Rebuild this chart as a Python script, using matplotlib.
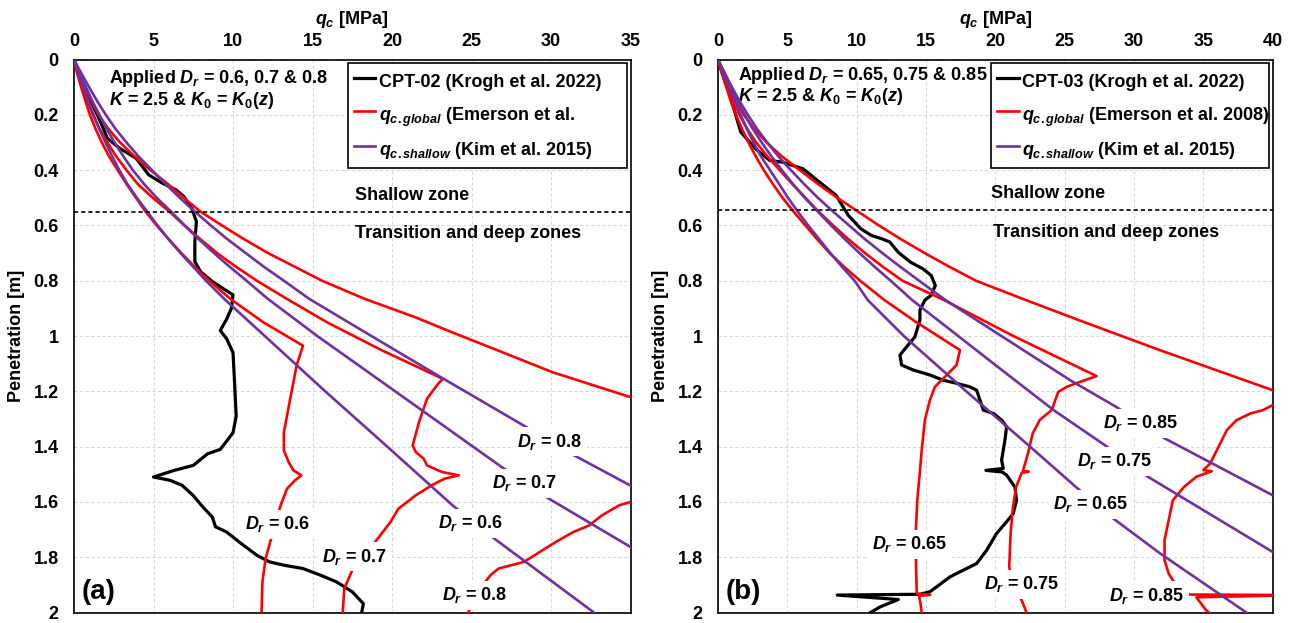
import matplotlib
matplotlib.use('Agg')
import matplotlib.pyplot as plt
from matplotlib.ticker import MultipleLocator, FuncFormatter

plt.rcParams['font.family'] = ['Liberation Sans', 'DejaVu Sans']
plt.rcParams['font.weight'] = 'bold'
plt.rcParams['font.size'] = 13
plt.rcParams['mathtext.fontset'] = 'custom'
plt.rcParams['mathtext.rm'] = 'Liberation Sans:bold'
plt.rcParams['mathtext.it'] = 'Liberation Sans:italic:bold'
plt.rcParams['mathtext.bf'] = 'Liberation Sans:bold'

RED = '#FF0000'
PURPLE = '#7030A0'
FS = 13

# ---------------- panel (a) : CPT-02 ----------------
a_cpt_q = [0.1, 0.9, 1.7, 2.1, 2.84, 3.9, 4.7, 5.55, 6.4, 6.9, 7.4, 7.7, 7.6, 7.6, 7.95, 8.7, 9.5, 10.0,
           9.9, 9.6, 9.2, 9.6, 10.0, 10.1, 10.2, 10.0, 9.6, 9.2, 8.4, 7.5, 6.3, 5.0, 6.05, 6.8, 7.5, 8.1,
           8.7, 8.9, 9.6, 10.5, 11.5, 12.3, 13.2, 14.4, 15.5, 16.5, 17.5, 18.2, 18.1]
a_cpt_z = [0.02, 0.13, 0.23, 0.285, 0.32, 0.357, 0.417, 0.447, 0.471, 0.495, 0.538, 0.586, 0.658, 0.73,
           0.767, 0.803, 0.833, 0.851, 0.9, 0.939, 0.98, 1.01, 1.06, 1.17, 1.29, 1.35, 1.38, 1.41, 1.426,
           1.468, 1.486, 1.51, 1.522, 1.54, 1.577, 1.618, 1.655, 1.69, 1.709, 1.75, 1.793, 1.817, 1.829,
           1.841, 1.865, 1.889, 1.925, 1.968, 1.998]

# q_c.global (Emerson et al.) for Dr = 0.6, 0.7, 0.8
a_glob06_q = [0, 0.2, 0.45, 0.72, 1.0, 1.35, 1.75, 2.2, 2.75, 3.3, 3.9, 4.5, 5.2, 5.95, 6.75, 7.6, 8.5,
              9.84, 11.9, 14.4, 14.0, 13.6, 13.2, 13.2, 13.5, 13.8, 14.3, 13.9, 13.4, 13.0, 12.4, 12.05,
              11.85, 11.8]
a_glob06_z = [0, 0.05, 0.1, 0.15, 0.2, 0.25, 0.3, 0.35, 0.4, 0.45, 0.5, 0.55, 0.6, 0.65, 0.7, 0.75, 0.8,
              0.866, 0.95, 1.035, 1.107, 1.227, 1.348, 1.414, 1.456, 1.486, 1.504, 1.522, 1.552, 1.612,
              1.733, 1.805, 1.89, 2.0]
a_glob07_q = [0, 0.25, 0.55, 0.85, 1.2, 1.6, 2.1, 2.65, 3.3, 4.0, 4.95, 6.0, 6.95, 7.95, 9.0, 10.2, 11.5,
              13.4, 15.9, 19.3, 23.2, 22.9, 22.2, 21.7, 21.3, 21.5, 22.0, 22.2, 23.15, 24.2, 23.3, 22.5,
              21.5, 20.4, 19.9, 19.1, 17.5, 17.0, 16.9]
a_glob07_z = [0, 0.05, 0.1, 0.15, 0.2, 0.25, 0.3, 0.35, 0.4, 0.45, 0.5, 0.55, 0.6, 0.65, 0.7, 0.75, 0.8,
              0.866, 0.95, 1.05, 1.155, 1.173, 1.227, 1.311, 1.396, 1.42, 1.444, 1.468, 1.492, 1.504, 1.516,
              1.54, 1.576, 1.625, 1.673, 1.733, 1.847, 1.913, 2.0]
a_glob08_q = [0, 0.32, 0.7, 1.1, 1.55, 2.15, 2.9, 3.8, 4.8, 5.9, 6.9, 7.95, 9.3, 10.7, 12.2, 13.9, 15.6,
              18.3, 21.5, 23.8, 27.0, 30.1, 35, 44, 35, 34.3, 33.2, 32.4, 31.4, 30.3, 29.3, 28.3, 27.5,
              26.7, 26.2, 25.3, 24.8]
a_glob08_z = [0, 0.05, 0.1, 0.15, 0.2, 0.25, 0.3, 0.35, 0.4, 0.45, 0.5, 0.55, 0.6, 0.65, 0.7, 0.75, 0.8,
              0.866, 0.933, 0.987, 1.06, 1.131, 1.221, 1.41, 1.6, 1.612, 1.649, 1.685, 1.709, 1.745, 1.781,
              1.817, 1.829, 1.841, 1.865, 1.93, 2.0]

# q_c.shallow (Kim et al. 2015) for Dr = 0.6, 0.7, 0.8
a_shal06_q = [0, 0.28, 0.58, 0.9, 1.22, 1.58, 1.98, 2.4, 2.85, 3.35, 3.95, 4.6, 5.25, 5.95, 6.7, 7.5, 8.3,
              9.45, 12.0, 15.8, 19.7, 23.8, 26.3, 32.7]
a_shal06_z = [0, 0.05, 0.1, 0.15, 0.2, 0.25, 0.3, 0.35, 0.4, 0.45, 0.5, 0.55, 0.6, 0.65, 0.7, 0.75, 0.8,
              0.866, 1.0, 1.2, 1.4, 1.612, 1.727, 2.0]
a_shal07_q = [0, 0.36, 0.75, 1.15, 1.6, 2.05, 2.55, 3.1, 3.7, 4.4, 5.2, 6.1, 6.95, 7.85, 8.8, 9.8, 10.85,
              12.2, 15.3, 20.2, 26.9, 29.8, 35]
a_shal07_z = [0, 0.05, 0.1, 0.15, 0.2, 0.25, 0.3, 0.35, 0.4, 0.45, 0.5, 0.55, 0.6, 0.65, 0.7, 0.75, 0.8,
              0.866, 1.0, 1.2, 1.474, 1.586, 1.763]
a_shal08_q = [0, 0.46, 0.95, 1.45, 2.0, 2.6, 3.3, 4.05, 4.9, 5.75, 6.65, 7.6, 8.6, 9.65, 10.8, 11.95, 13.2,
              14.8, 18.7, 23.1, 27.9, 31.4, 35]
a_shal08_z = [0, 0.05, 0.1, 0.15, 0.2, 0.25, 0.3, 0.35, 0.4, 0.45, 0.5, 0.55, 0.6, 0.65, 0.7, 0.75, 0.8,
              0.866, 1.0, 1.15, 1.311, 1.43, 1.541]

# ---------------- panel (b) : CPT-03 ----------------
b_cpt_q = [0.1, 0.8, 1.64, 2.69, 3.73, 4.63, 6.12, 7.31, 8.51, 9.40, 10.3, 11.04, 11.79, 12.39, 12.99,
           13.88, 14.78, 15.37, 15.67, 15.37, 14.92, 14.56, 14.56, 14.2, 13.6, 13.12, 13.24, 14.08, 15.28,
           16.24, 17.2, 18.17, 18.65, 18.89, 19.13, 19.85, 20.45, 20.81, 20.69, 20.45, 20.57, 19.32, 20.5,
           20.81, 21.41, 21.53, 21.29, 20.81, 20.09, 19.37, 18.65, 17.68, 16.73, 15.77, 15.28, 14.56, 8.6,
           13.0, 11.68, 11.0]
b_cpt_z = [0.02, 0.12, 0.262, 0.322, 0.365, 0.371, 0.395, 0.443, 0.491, 0.564, 0.612, 0.636, 0.648, 0.660,
           0.697, 0.733, 0.757, 0.781, 0.817, 0.853, 0.870, 0.906, 0.942, 1.003, 1.039, 1.069, 1.105, 1.123,
           1.141, 1.16, 1.171, 1.184, 1.196, 1.232, 1.268, 1.28, 1.304, 1.328, 1.377, 1.449, 1.479, 1.486,
           1.492, 1.503, 1.546, 1.594, 1.642, 1.672, 1.714, 1.775, 1.823, 1.847, 1.871, 1.907, 1.925, 1.934,
           1.937, 1.953, 1.98, 2.0]

b_glob065_q = [0, 0.28, 0.6, 0.92, 1.3, 1.72, 2.2, 2.72, 3.3, 3.95, 4.65, 5.45, 6.3, 7.15, 8.05, 9.1, 10.25,
               12.0, 14.3, 17.45, 17.2, 16.5, 15.64, 15.28, 14.92, 14.69, 14.56, 14.37, 14.28, 14.28,
               14.33, 15.3, 14.5, 14.6, 14.69]
b_glob065_z = [0, 0.05, 0.1, 0.15, 0.2, 0.25, 0.3, 0.35, 0.4, 0.45, 0.5, 0.55, 0.6, 0.65, 0.7, 0.75, 0.8,
               0.87, 0.95, 1.051, 1.105, 1.141, 1.184, 1.232, 1.304, 1.413, 1.491, 1.594, 1.69, 1.823,
               1.932, 1.936, 1.94, 1.967, 2.0]
b_glob075_q = [0, 0.32, 0.7, 1.1, 1.55, 2.1, 2.75, 3.55, 4.45, 5.35, 6.3, 7.25, 8.3, 9.4, 10.6, 11.9, 13.3,
               16.3, 21.3, 27.3, 26.1, 25.14, 24.54, 24.06, 23.2, 22.7, 22.35, 21.99, 22.4, 21.9, 21.5,
               21.27, 21.1, 21.0, 21.3, 21.9, 22.25]
b_glob075_z = [0, 0.05, 0.1, 0.15, 0.2, 0.25, 0.3, 0.35, 0.4, 0.45, 0.5, 0.55, 0.6, 0.65, 0.7, 0.75, 0.8,
               0.87, 1.0, 1.145, 1.166, 1.184, 1.202, 1.268, 1.304, 1.352, 1.425, 1.488, 1.491, 1.495,
               1.546, 1.618, 1.714, 1.835, 1.9, 1.956, 2.0]
b_glob085_q = [0, 0.38, 0.8, 1.3, 1.85, 2.6, 3.5, 4.6, 5.9, 7.2, 8.6, 10.1, 11.6, 13.2, 14.9, 16.7, 18.6,
               22.2, 26.1, 31.8, 40, 44, 40, 39.3, 38.4, 37.4, 36.7, 36.1, 35.5, 35.0, 35.6, 34.5, 33.6,
               32.8, 32.5, 32.2, 32.2, 32.5, 32.8, 33.3, 34.0, 42, 34.5, 35.2, 35.4]
b_glob085_z = [0, 0.05, 0.1, 0.15, 0.2, 0.25, 0.3, 0.35, 0.4, 0.45, 0.5, 0.55, 0.6, 0.65, 0.7, 0.75, 0.8,
               0.87, 0.944, 1.05, 1.196, 1.225, 1.25, 1.268, 1.28, 1.304, 1.34, 1.40, 1.461, 1.485, 1.489,
               1.509, 1.546, 1.594, 1.666, 1.738, 1.811, 1.859, 1.883, 1.92, 1.935, 1.937, 1.945, 1.992, 2.0]

b_shal065_q = [0, 0.38, 0.8, 1.2, 1.62, 2.08, 2.55, 3.1, 3.75, 4.4, 5.05, 5.75, 6.5, 7.3, 8.1, 8.95, 9.85,
               10.8, 13.4, 17.9, 22.5, 25.9, 28.5, 31.9, 38.1]
b_shal065_z = [0, 0.05, 0.1, 0.15, 0.2, 0.25, 0.3, 0.35, 0.4, 0.45, 0.5, 0.55, 0.6, 0.65, 0.7, 0.75, 0.8,
               0.87, 1.0, 1.2, 1.4, 1.55, 1.66, 1.787, 2.0]
b_shal075_q = [0, 0.44, 0.9, 1.4, 1.92, 2.5, 3.15, 3.85, 4.6, 5.4, 6.25, 7.2, 8.15, 9.15, 10.2, 11.3, 12.45,
               14.0, 19.85, 24.2, 27.9, 31.0, 40]
b_shal075_z = [0, 0.05, 0.1, 0.15, 0.2, 0.25, 0.3, 0.35, 0.4, 0.45, 0.5, 0.55, 0.6, 0.65, 0.7, 0.75, 0.8,
               0.87, 1.099, 1.268, 1.395, 1.509, 1.781]
b_shal085_q = [0, 0.5, 1.0, 1.55, 2.15, 2.8, 3.55, 4.35, 5.25, 6.2, 7.2, 8.3, 9.45, 10.6, 11.85, 13.15,
               14.5, 16.4, 25.4, 28.7, 32.2, 40]
b_shal085_z = [0, 0.05, 0.1, 0.15, 0.2, 0.25, 0.3, 0.35, 0.4, 0.45, 0.5, 0.55, 0.6, 0.65, 0.7, 0.75, 0.8,
               0.87, 1.16, 1.256, 1.37, 1.576]

# label texts and where they sit (q, z)
a_dr_labels = [('$D_r$ = 0.8', 29.9, 1.383), ('$D_r$ = 0.7', 28.35, 1.533), ('$D_r$ = 0.6', 24.96, 1.678),
               ('$D_r$ = 0.6', 12.78, 1.681), ('$D_r$ = 0.7', 17.66, 1.799), ('$D_r$ = 0.8', 25.2, 1.937)]
b_dr_labels = [('$D_r$ = 0.85', 30.5, 1.316), ('$D_r$ = 0.75', 28.6, 1.453), ('$D_r$ = 0.65', 26.9, 1.608),
               ('$D_r$ = 0.65', 13.8, 1.754), ('$D_r$ = 0.75', 21.9, 1.898), ('$D_r$ = 0.85', 30.95, 1.94)]

fig = plt.figure(figsize=(12.94, 6.23), dpi=100)
ax1 = fig.add_axes([0.05719, 0.01685, 0.43006, 0.88764])
ax2 = fig.add_axes([0.55487, 0.01685, 0.42867, 0.88764])


def style_axis(ax, xmax):
    ax.set_xlim(0, xmax)
    ax.set_ylim(2, 0)
    ax.xaxis.tick_top()
    ax.xaxis.set_label_position('top')
    ax.xaxis.set_major_locator(MultipleLocator(5))
    ax.yaxis.set_major_locator(MultipleLocator(0.2))
    ax.yaxis.set_major_formatter(FuncFormatter(lambda v, p: '{:g}'.format(round(v, 2))))
    ax.tick_params(axis='x', length=0, pad=7, labelsize=FS)
    ax.tick_params(axis='y', length=0, pad=11, labelsize=FS)
    ax.grid(True, color='#D9D9D9', linestyle=(0, (3, 2)), linewidth=0.8)
    ax.set_axisbelow(True)
    for s in ax.spines.values():
        s.set_linewidth(1.2)
        s.set_color('black')
    ax.set_xlabel('$q_c$ [MPa]', fontsize=FS, fontweight='bold', labelpad=6)
    ax.set_ylabel('Penetration [m]', fontsize=FS, fontweight='bold', labelpad=6)


def white_label(ax, txt, x, y):
    ax.text(x, y, txt, ha='center', va='center', fontsize=FS, fontweight='bold', zorder=6,
            bbox=dict(boxstyle='square,pad=0.25', fc='white', ec='none'))


def add_legend(ax, x0, x1):
    leg = ax.legend(loc='upper left', bbox_to_anchor=(x0, 0.5, x1 - x0, 0.494), mode='expand',
                    borderaxespad=0, fontsize=FS, handlelength=1.2, handleheight=1.8,
                    handletextpad=0.2, labelspacing=0.45, borderpad=0.3,
                    frameon=True, fancybox=False, edgecolor='black', framealpha=1)
    leg.get_frame().set_linewidth(1.2)


# panel (a)
style_axis(ax1, 35)
ax1.plot(a_cpt_q, a_cpt_z, color='black', lw=2.3, zorder=2, label='CPT-02 (Krogh et al. 2022)')
ax1.plot(a_glob06_q, a_glob06_z, color=RED, lw=1.9, zorder=3, label='$q_{c.global}$ (Emerson et al.')
ax1.plot(a_glob07_q, a_glob07_z, color=RED, lw=1.9, zorder=3)
ax1.plot(a_glob08_q, a_glob08_z, color=RED, lw=1.9, zorder=3)
ax1.plot(a_shal06_q, a_shal06_z, color=PURPLE, lw=1.9, zorder=4, label='$q_{c.shallow}$ (Kim et al. 2015)')
ax1.plot(a_shal07_q, a_shal07_z, color=PURPLE, lw=1.9, zorder=4)
ax1.plot(a_shal08_q, a_shal08_z, color=PURPLE, lw=1.9, zorder=4)
ax1.axhline(0.551, color='black', lw=1.2, linestyle=(0, (2.5, 1.8)), zorder=5)
ax1.text(2.2, 0.07, 'Applied $D_r$ = 0.6, 0.7 & 0.8', fontsize=FS, va='center', ha='left')
ax1.text(2.2, 0.15, '$K$ = 2.5 & $K_0$ = $K_0$($z$)', fontsize=FS, va='center', ha='left')
ax1.text(17.7, 0.493, 'Shallow zone', fontsize=FS, va='center', ha='left')
ax1.text(17.65, 0.628, 'Transition and deep zones', fontsize=FS, va='center', ha='left')
ax1.text(0.45, 1.925, '(a)', fontsize=20, fontweight='bold', va='center', ha='left')
for t, x, y in a_dr_labels:
    white_label(ax1, t, x, y)
add_legend(ax1, 0.493, 0.994)

# panel (b)
style_axis(ax2, 40)
ax2.plot(b_cpt_q, b_cpt_z, color='black', lw=2.3, zorder=2, label='CPT-03 (Krogh et al. 2022)')
ax2.plot(b_glob065_q, b_glob065_z, color=RED, lw=1.9, zorder=3, label='$q_{c.global}$ (Emerson et al. 2008)')
ax2.plot(b_glob075_q, b_glob075_z, color=RED, lw=1.9, zorder=3)
ax2.plot(b_glob085_q, b_glob085_z, color=RED, lw=1.9, zorder=3)
ax2.plot(b_shal065_q, b_shal065_z, color=PURPLE, lw=1.9, zorder=4, label='$q_{c.shallow}$ (Kim et al. 2015)')
ax2.plot(b_shal075_q, b_shal075_z, color=PURPLE, lw=1.9, zorder=4)
ax2.plot(b_shal085_q, b_shal085_z, color=PURPLE, lw=1.9, zorder=4)
ax2.axhline(0.545, color='black', lw=1.2, linestyle=(0, (2.5, 1.8)), zorder=5)
ax2.text(1.44, 0.058, 'Applied $D_r$ = 0.65, 0.75 & 0.85', fontsize=FS, va='center', ha='left')
ax2.text(1.44, 0.135, '$K$ = 2.5 & $K_0$ = $K_0$($z$)', fontsize=FS, va='center', ha='left')
ax2.text(19.7, 0.486, 'Shallow zone', fontsize=FS, va='center', ha='left')
ax2.text(19.8, 0.624, 'Transition and deep zones', fontsize=FS, va='center', ha='left')
ax2.text(0.55, 1.925, '(b)', fontsize=20, fontweight='bold', va='center', ha='left')
for t, x, y in b_dr_labels:
    white_label(ax2, t, x, y)
add_legend(ax2, 0.493, 0.993)

fig.savefig('out.png', dpi=100)
